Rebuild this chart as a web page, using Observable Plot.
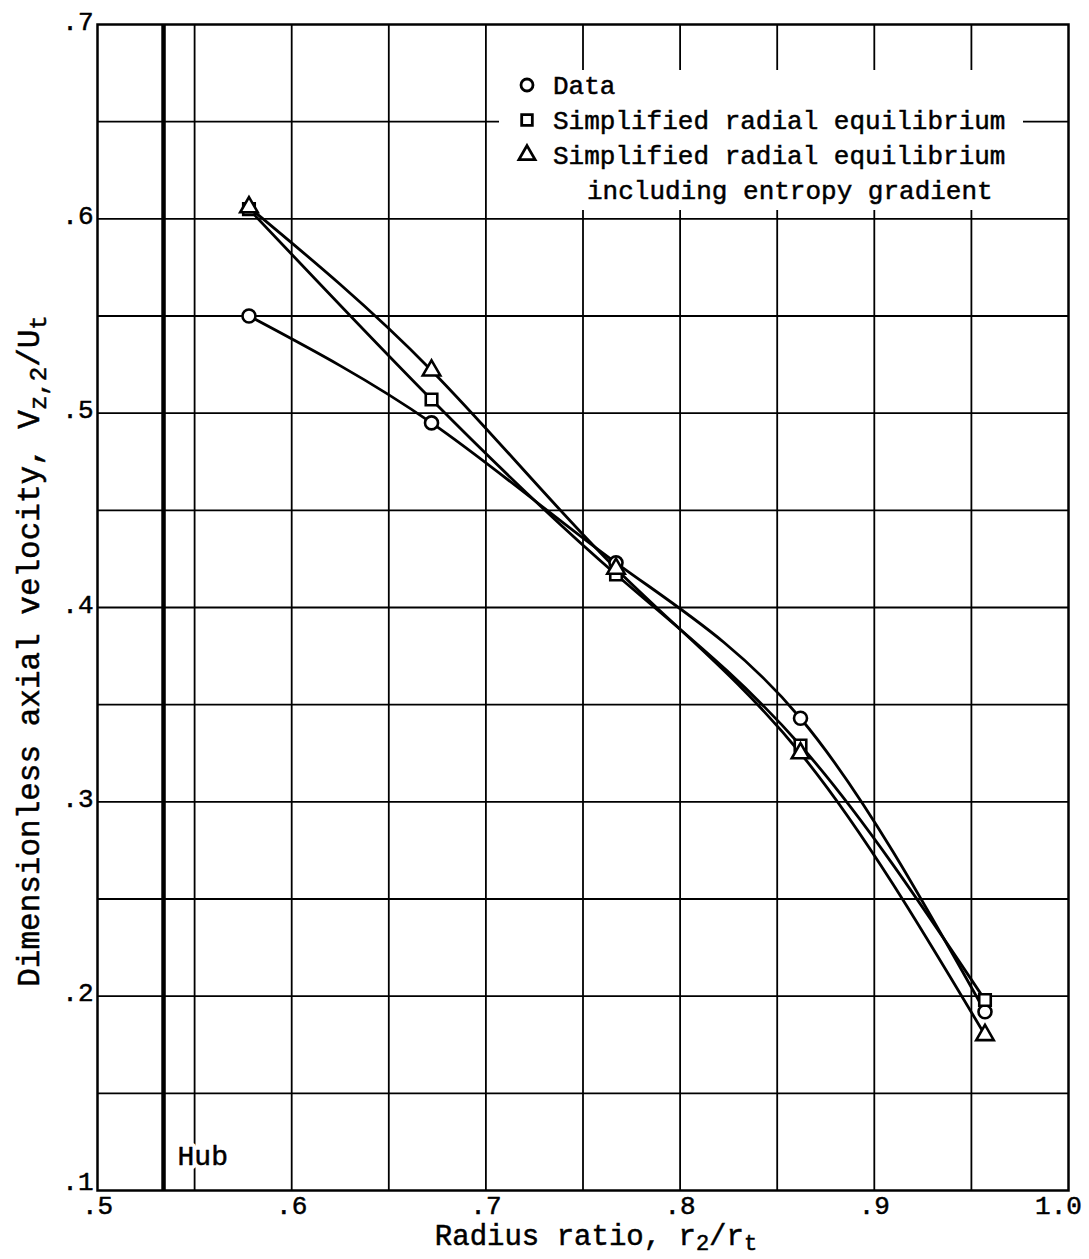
<!DOCTYPE html>
<html><head><meta charset="utf-8">
<script src="https://cdn.jsdelivr.net/npm/d3@7"></script>
<script src="https://cdn.jsdelivr.net/npm/@observablehq/plot@0.6"></script>
<style>body{margin:0;background:#fff}</style>
</head><body><div id="chart"></div>
<script>
// ---- data ----
const radius = [0.578, 0.672, 0.767, 0.862, 0.957];
const dataVel = [0.550, 0.495, 0.423, 0.343, 0.192];
const simpleVel = [0.605, 0.507, 0.417, 0.329, 0.198];
const entropyVel = [0.606, 0.522, 0.420, 0.325, 0.180];
const seriesNames = ["Data", "Simplified radial equilibrium", "Simplified radial equilibrium including entropy gradient"];
const seriesSymbols = ["circle", "square", "triangle"];
const hubRatio = 0.534;
const xTicks = [0.5, 0.6, 0.7, 0.8, 0.9];
const xTickLabels = [".5", ".6", ".7", ".8", ".9"];
const xLastTick = [1.0];
const xLastTickLabel = ["1.0"];
const yFirstTick = [0.1];
const yFirstTickLabel = [".1"];
const yTicks = [0.2, 0.3, 0.4, 0.5, 0.6, 0.7];
const yTickLabels = [".2", ".3", ".4", ".5", ".6", ".7"];
const xGrid = [0.55, 0.6, 0.65, 0.7, 0.75, 0.8, 0.85, 0.9, 0.95];
const yGrid = [0.15, 0.2, 0.25, 0.3, 0.35, 0.4, 0.45, 0.5, 0.55, 0.6, 0.65];

const seriesValues = [dataVel, simpleVel, entropyVel];
const rows = [];
seriesNames.forEach((s, k) => radius.forEach((r, i) => rows.push({series: s, r, v: seriesValues[k][i]})));

const FONT = "'Liberation Mono', 'DejaVu Sans Mono', monospace";
const tickText = {tickSize: 0, label: null, fontSize: 26, textStroke: "black", textStrokeWidth: 0.5};

const plot = Plot.plot({
  width: 1089,
  height: 1259,
  marginLeft: 97,
  marginRight: 21,
  marginTop: 24,
  marginBottom: 69,
  style: {fontFamily: FONT, fontSize: "26px", color: "black", background: "white"},
  x: {domain: [0.5, 1.0]},
  y: {domain: [0.1, 0.7]},
  symbol: {domain: seriesNames, range: seriesSymbols},
  marks: [
    Plot.gridX(xGrid, {stroke: "black", strokeOpacity: 1, strokeWidth: 1.8}),
    Plot.gridY(yGrid, {stroke: "black", strokeOpacity: 1, strokeWidth: 1.8}),
    Plot.ruleX([hubRatio], {stroke: "black", strokeWidth: 4.5}),
    Plot.text([hubRatio], {x: d => d, frameAnchor: "bottom", dx: 14, dy: -26, text: () => "Hub",
      textAnchor: "start", fill: "white", stroke: "white", strokeWidth: 8, fontSize: 28}),
    Plot.text([hubRatio], {x: d => d, frameAnchor: "bottom", dx: 14, dy: -26, text: () => "Hub",
      textAnchor: "start", fill: "black", stroke: "black", strokeWidth: 0.5, fontSize: 28}),
    Plot.frame({stroke: "black", strokeWidth: 2.5}),
    Plot.line(rows, {x: "r", y: "v", z: "series", curve: "natural", stroke: "black", strokeWidth: 2.8}),
    Plot.dot(rows, {x: "r", y: "v", symbol: "series", r: 6.5, fill: "white", stroke: "black", strokeWidth: 2.6}),
    Plot.axisX(xTicks, {...tickText, tickFormat: (d, i) => xTickLabels[i], tickPadding: 5}),
    Plot.axisX(xLastTick, {...tickText, tickFormat: (d, i) => xLastTickLabel[i], tickPadding: 5, dx: -10}),
    Plot.axisY(yTicks, {...tickText, tickFormat: (d, i) => yTickLabels[i], tickPadding: 4, dy: -3}),
    Plot.axisY(yFirstTick, {...tickText, tickFormat: (d, i) => yFirstTickLabel[i], tickPadding: 4, dy: -9})
  ]
});
document.getElementById("chart").appendChild(plot);

const svg = d3.select(plot);

// axis labels with subscripts
function sub(t, txt, size, d) { t.append("tspan").attr("dy", d).attr("font-size", size).text(txt); }
function up(t, txt, d) { t.append("tspan").attr("dy", -d).text(txt); }

const xl = svg.append("text").attr("x", 596).attr("y", 1245).attr("text-anchor", "middle")
  .attr("font-family", FONT).attr("font-size", "29px").attr("fill", "black")
  .attr("stroke", "black").attr("stroke-width", 0.5);
xl.append("tspan").text("Radius ratio, r");
sub(xl, "2", "22px", 5); up(xl, "/r", 5); sub(xl, "t", "22px", 5);

const yl = svg.append("text").attr("transform", "translate(39,651) rotate(-90)").attr("text-anchor", "middle")
  .attr("font-family", FONT).attr("font-size", "31px").attr("fill", "black")
  .attr("stroke", "black").attr("stroke-width", 0.5);
yl.append("tspan").text("Dimensionless axial velocity, V");
sub(yl, "z,2", "24px", 7); up(yl, "/U", 7); sub(yl, "t", "24px", 7);

// legend
const lg = svg.append("g").attr("font-family", FONT).attr("font-size", "26px").attr("fill", "black");
lg.append("rect").attr("x", 499).attr("y", 70).attr("width", 524).attr("height", 140).attr("fill", "white");
const sym = {circle: d3.symbolCircle, square: d3.symbolSquare, triangle: d3.symbolTriangle};
const rowY = [85, 120, 155];
seriesSymbols.forEach((s, i) => {
  lg.append("path").attr("d", d3.symbol(sym[s], Math.PI * 6 * 6)())
    .attr("transform", `translate(527,${rowY[i]})`).attr("fill", "white").attr("stroke", "black").attr("stroke-width", 2.8);
});
const legendLines = [[553, rowY[0], seriesNames[0]], [553, rowY[1], seriesNames[1]],
  [553, rowY[2], "Simplified radial equilibrium"], [587, 190, "including entropy gradient"]];
legendLines.forEach(([x, y, t]) => {
  lg.append("text").attr("x", x).attr("y", y).attr("dy", "0.35em").attr("text-anchor", "start")
    .attr("stroke", "black").attr("stroke-width", 0.5).text(t);
});
</script>
</body></html>
